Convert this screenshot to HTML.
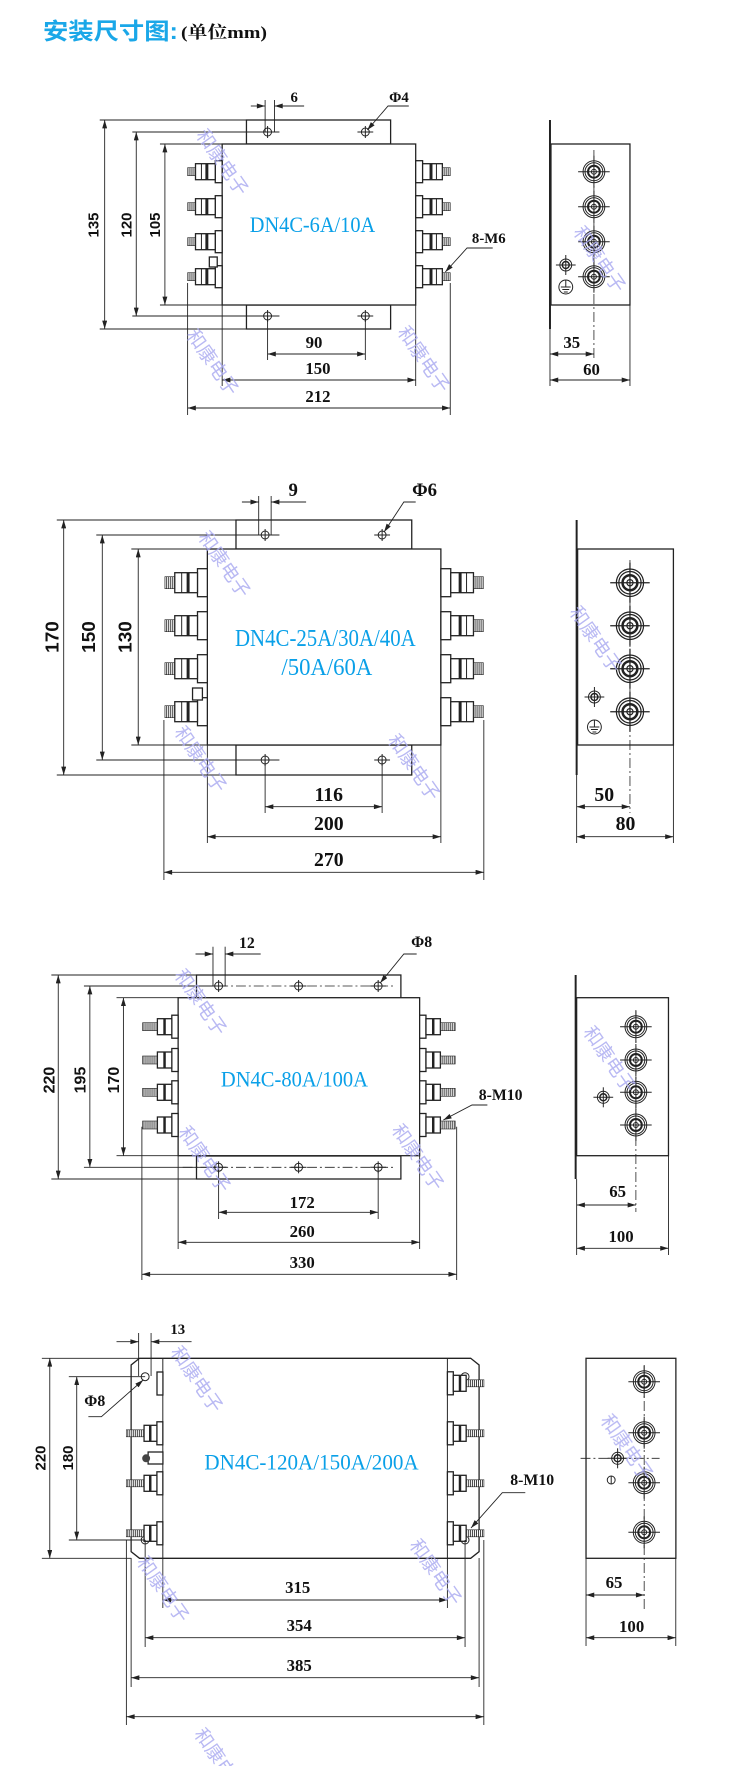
<!DOCTYPE html>
<html><head><meta charset="utf-8"><style>
html,body{margin:0;padding:0;background:#fff;}
svg{display:block;}
.l{stroke:#222;stroke-width:1;fill:none;}
.b{stroke:#222;stroke-width:1.3;fill:#fff;}
.d{stroke:#222;stroke-width:0.9;fill:none;}
.dd{stroke:#222;stroke-width:0.8;fill:none;stroke-dasharray:10 3 2 3;}
.n{font-family:"Liberation Serif",serif;font-weight:bold;fill:#111;text-anchor:middle;}
.r{font-family:"Liberation Sans",sans-serif;font-weight:bold;fill:#111;text-anchor:middle;}
.m{font-family:"Liberation Serif",serif;fill:#0aa0e8;}
.w{font-family:"Liberation Sans","Noto Sans CJK SC",sans-serif;fill:#a8a8f0;opacity:0.8;font-size:19px;}
</style></head><body>
<svg width="730" height="1766" viewBox="0 0 730 1766" xmlns="http://www.w3.org/2000/svg">
<defs>
<marker id="a" viewBox="0 0 10 6" refX="10" refY="3" markerWidth="9" markerHeight="5" orient="auto-start-reverse" markerUnits="userSpaceOnUse"><path d="M0,0 L10,3 L0,6 z" fill="#222"/></marker>
<pattern id="th" width="2" height="4" patternUnits="userSpaceOnUse"><rect width="2" height="4" fill="#fff"/><rect width="1" height="4" fill="#444"/></pattern>
<g id="t1"><rect x="-7" y="-11" width="7" height="22" class="b"/><rect x="-27" y="-8" width="20" height="16" class="b"/><line x1="-21" y1="-8" x2="-21" y2="8" class="l"/><rect x="-17" y="-8" width="3" height="16" fill="#222"/><rect x="-35" y="-4" width="8" height="8" fill="url(#th)" stroke="#222" stroke-width="0.6"/></g>
<g id="t2"><rect x="-10" y="-14" width="10" height="28" class="b"/><rect x="-33" y="-10" width="23" height="20" class="b"/><line x1="-26" y1="-10" x2="-26" y2="10" class="l"/><rect x="-21" y="-10" width="3" height="20" fill="#222"/><rect x="-43" y="-6" width="10" height="12" fill="url(#th)" stroke="#222" stroke-width="0.6"/></g>
<g id="t3"><rect x="-6.4" y="-11.5" width="6.4" height="23" class="b"/><rect x="-21" y="-8" width="14.6" height="16" class="b"/><rect x="-15" y="-8" width="2.5" height="16" fill="#222"/><rect x="-36" y="-4" width="15" height="8" fill="url(#th)" stroke="#222" stroke-width="0.6"/></g>
<g id="t4"><rect x="-6" y="-11.5" width="6" height="23" class="b"/><rect x="-19" y="-8" width="13" height="16" class="b"/><rect x="-14" y="-8" width="2.5" height="16" fill="#222"/><rect x="-37" y="-3.5" width="18" height="7" fill="url(#th)" stroke="#222" stroke-width="0.6"/></g>
<g id="c"><circle r="11" class="l"/><circle r="9" class="l"/><circle r="6" stroke="#222" stroke-width="2" fill="none"/><circle r="2.5" class="l"/><line x1="-16" y1="0" x2="16" y2="0" class="l"/><line x1="0" y1="-16" x2="0" y2="16" class="l"/></g>
<g id="cg"><circle r="6" class="l"/><circle r="3.5" stroke="#222" stroke-width="1.5" fill="none"/><line x1="-10" y1="0" x2="10" y2="0" class="l"/><line x1="0" y1="-10" x2="0" y2="10" class="l"/></g>
<g id="gs"><circle r="7" class="l"/><line x1="0" y1="-7" x2="0" y2="0" class="l"/><line x1="-5" y1="0" x2="5" y2="0" class="l"/><line x1="-3.5" y1="2.5" x2="3.5" y2="2.5" class="l"/><line x1="-2" y1="5" x2="2" y2="5" class="l"/></g>
<g id="h"><circle r="4" class="l"/><line x1="-8" y1="0" x2="8" y2="0" class="l"/><line x1="0" y1="-6" x2="0" y2="6" class="l"/></g>
</defs>

<text x="43" y="39" font-family="Liberation Sans,'Noto Sans CJK SC',sans-serif" font-size="23" font-weight="bold" fill="#1aa7e8" textLength="135" lengthAdjust="spacingAndGlyphs">安装尺寸图:</text>
<text x="181" y="38" font-family="Liberation Serif,'Noto Serif CJK SC',serif" font-size="17" font-weight="bold" fill="#111" textLength="86" lengthAdjust="spacingAndGlyphs">(单位mm)</text>

<g transform="scale(0.9874,1)">
<!-- ========== SECTION 1 ========== -->
<rect x="249.6" y="120" width="146" height="24" class="b"/>
<rect x="249.6" y="305" width="146" height="24" class="b"/>
<rect x="225" y="144" width="196" height="161" class="b"/>
<use href="#h" x="271" y="132"/><use href="#h" x="370" y="132"/>
<use href="#h" x="271" y="316"/><use href="#h" x="370" y="316"/>
<use href="#t1" x="225" y="171.7"/><use href="#t1" x="225" y="206.7"/><use href="#t1" x="225" y="241.7"/><use href="#t1" x="225" y="276.7"/>
<g transform="translate(421,0) scale(-1,1)"><use href="#t1" x="0" y="171.7"/><use href="#t1" x="0" y="206.7"/><use href="#t1" x="0" y="241.7"/><use href="#t1" x="0" y="276.7"/></g>
<rect x="212" y="257" width="8" height="10" class="b"/>
<text class="m" x="253" y="232" font-size="22" textLength="127" lengthAdjust="spacingAndGlyphs">DN4C-6A/10A</text>
<line x1="268.5" y1="100" x2="268.5" y2="132" class="d"/><line x1="278" y1="100" x2="278" y2="132" class="d"/>
<line x1="254" y1="106" x2="268.5" y2="106" class="d" marker-end="url(#a)"/><line x1="308" y1="106" x2="278" y2="106" class="d" marker-end="url(#a)"/>
<text class="n" x="298" y="102" font-size="15">6</text>
<polyline points="414,106 393,106 372,130" class="d" marker-end="url(#a)"/>
<text class="n" x="404" y="102" font-size="15">Φ4</text>
<line x1="101" y1="120" x2="250" y2="120" class="d"/><line x1="101" y1="329" x2="250" y2="329" class="d"/>
<line x1="106" y1="120" x2="106" y2="329" class="d" marker-start="url(#a)" marker-end="url(#a)"/>
<line x1="134" y1="132" x2="283" y2="132" class="d"/><line x1="134" y1="316" x2="283" y2="316" class="d"/>
<line x1="138" y1="132" x2="138" y2="316" class="d" marker-start="url(#a)" marker-end="url(#a)"/>
<line x1="162" y1="144" x2="225" y2="144" class="d"/><line x1="162" y1="305" x2="225" y2="305" class="d"/>
<line x1="167" y1="144" x2="167" y2="305" class="d" marker-start="url(#a)" marker-end="url(#a)"/>
<text class="r" font-size="15" transform="translate(100,225) rotate(-90)">135</text>
<text class="r" font-size="15" transform="translate(133,225) rotate(-90)">120</text>
<text class="r" font-size="15" transform="translate(162,225) rotate(-90)">105</text>
<polyline points="499,248 473,248 451,272" class="d" marker-end="url(#a)"/>
<text class="n" x="495" y="243" font-size="15">8-M6</text>
<line x1="271" y1="316" x2="271" y2="360" class="d"/><line x1="370" y1="316" x2="370" y2="360" class="d"/>
<line x1="271" y1="354" x2="370" y2="354" class="d" marker-start="url(#a)" marker-end="url(#a)"/>
<text class="n" x="318" y="348" font-size="17">90</text>
<line x1="225" y1="305" x2="225" y2="386" class="d"/><line x1="421" y1="305" x2="421" y2="386" class="d"/>
<line x1="225" y1="380" x2="421" y2="380" class="d" marker-start="url(#a)" marker-end="url(#a)"/>
<text class="n" x="322" y="374" font-size="17">150</text>
<line x1="190" y1="283" x2="190" y2="415" class="d"/><line x1="456" y1="283" x2="456" y2="415" class="d"/>
<line x1="190" y1="408" x2="456" y2="408" class="d" marker-start="url(#a)" marker-end="url(#a)"/>
<text class="n" x="322" y="402" font-size="17">212</text>
<line x1="557" y1="120" x2="557" y2="329" stroke="#222" stroke-width="2"/>
<rect x="558" y="144" width="80" height="161" class="b"/>
<line x1="601.5" y1="150" x2="601.5" y2="360" class="dd"/>
<use href="#c" x="601.5" y="171.7"/><use href="#c" x="601.5" y="206.7"/><use href="#c" x="601.5" y="241.7"/><use href="#c" x="601.5" y="276.7"/>
<use href="#cg" x="573" y="265"/><use href="#gs" x="573" y="287"/>
<line x1="557" y1="329" x2="557" y2="386" class="d"/><line x1="638" y1="305" x2="638" y2="386" class="d"/>
<line x1="557" y1="354" x2="601.5" y2="354" class="d" marker-start="url(#a)" marker-end="url(#a)"/>
<text class="n" x="579" y="348" font-size="17">35</text>
<line x1="557" y1="380" x2="638" y2="380" class="d" marker-start="url(#a)" marker-end="url(#a)"/>
<text class="n" x="599" y="375" font-size="17">60</text>

<!-- ========== SECTION 2 ========== -->
<rect x="239" y="520" width="178" height="29" class="b"/>
<rect x="239" y="745" width="178" height="30" class="b"/>
<rect x="210" y="549" width="236.5" height="196" class="b"/>
<use href="#h" x="268.5" y="535"/><use href="#h" x="387" y="535"/>
<use href="#h" x="268.5" y="760"/><use href="#h" x="387" y="760"/>
<use href="#t2" x="210" y="582.7"/><use href="#t2" x="210" y="625.7"/><use href="#t2" x="210" y="668.7"/><use href="#t2" x="210" y="711.7"/>
<g transform="translate(446.5,0) scale(-1,1)"><use href="#t2" x="0" y="582.7"/><use href="#t2" x="0" y="625.7"/><use href="#t2" x="0" y="668.7"/><use href="#t2" x="0" y="711.7"/></g>
<rect x="195" y="688" width="10" height="12" class="b"/>
<text class="m" x="238" y="646" font-size="24" textLength="183" lengthAdjust="spacingAndGlyphs">DN4C-25A/30A/40A</text>
<text class="m" x="285" y="675" font-size="24" textLength="92" lengthAdjust="spacingAndGlyphs">/50A/60A</text>
<line x1="262" y1="496" x2="262" y2="535" class="d"/><line x1="274.6" y1="496" x2="274.6" y2="535" class="d"/>
<line x1="245" y1="502" x2="262" y2="502" class="d" marker-end="url(#a)"/><line x1="310" y1="502" x2="274.6" y2="502" class="d" marker-end="url(#a)"/>
<text class="n" x="297" y="496" font-size="19">9</text>
<polyline points="421,502 409,502 389,532" class="d" marker-end="url(#a)"/>
<text class="n" x="430" y="496" font-size="19">Φ6</text>
<line x1="57.5" y1="520" x2="239" y2="520" class="d"/><line x1="57.5" y1="775" x2="239" y2="775" class="d"/>
<line x1="64.5" y1="520" x2="64.5" y2="775" class="d" marker-start="url(#a)" marker-end="url(#a)"/>
<line x1="97.5" y1="535" x2="283" y2="535" class="d"/><line x1="97.5" y1="760" x2="283" y2="760" class="d"/>
<line x1="103.6" y1="535" x2="103.6" y2="760" class="d" marker-start="url(#a)" marker-end="url(#a)"/>
<line x1="133" y1="549" x2="210" y2="549" class="d"/><line x1="133" y1="745" x2="210" y2="745" class="d"/>
<line x1="140" y1="549" x2="140" y2="745" class="d" marker-start="url(#a)" marker-end="url(#a)"/>
<text class="r" font-size="19" transform="translate(59,637) rotate(-90)">170</text>
<text class="r" font-size="19" transform="translate(96,637) rotate(-90)">150</text>
<text class="r" font-size="19" transform="translate(133,637) rotate(-90)">130</text>
<line x1="268.5" y1="760" x2="268.5" y2="813" class="d"/><line x1="387" y1="760" x2="387" y2="813" class="d"/>
<line x1="268.5" y1="806.7" x2="387" y2="806.7" class="d" marker-start="url(#a)" marker-end="url(#a)"/>
<text class="n" x="333" y="801" font-size="20">116</text>
<line x1="210" y1="745" x2="210" y2="843" class="d"/><line x1="446.5" y1="745" x2="446.5" y2="843" class="d"/>
<line x1="210" y1="836.7" x2="446.5" y2="836.7" class="d" marker-start="url(#a)" marker-end="url(#a)"/>
<text class="n" x="333" y="830" font-size="20">200</text>
<line x1="166" y1="720" x2="166" y2="880" class="d"/><line x1="490" y1="720" x2="490" y2="880" class="d"/>
<line x1="166" y1="872.3" x2="490" y2="872.3" class="d" marker-start="url(#a)" marker-end="url(#a)"/>
<text class="n" x="333" y="866" font-size="20">270</text>
<line x1="584" y1="520" x2="584" y2="775" stroke="#222" stroke-width="2"/>
<rect x="585" y="549" width="97" height="196" class="b"/>
<line x1="638" y1="560" x2="638" y2="813" class="dd"/>
<g transform="translate(638,582.7) scale(1.25)"><use href="#c"/></g><g transform="translate(638,625.7) scale(1.25)"><use href="#c"/></g><g transform="translate(638,668.7) scale(1.25)"><use href="#c"/></g><g transform="translate(638,711.7) scale(1.25)"><use href="#c"/></g>
<use href="#cg" x="602" y="697"/><use href="#gs" x="602" y="727"/>
<line x1="584" y1="775" x2="584" y2="843" class="d"/><line x1="682" y1="745" x2="682" y2="843" class="d"/>
<line x1="584" y1="806.7" x2="638" y2="806.7" class="d" marker-start="url(#a)" marker-end="url(#a)"/>
<text class="n" x="612" y="801" font-size="20">50</text>
<line x1="584" y1="836.7" x2="682" y2="836.7" class="d" marker-start="url(#a)" marker-end="url(#a)"/>
<text class="n" x="633.5" y="830" font-size="20">80</text>

<!-- ========== SECTION 3 ========== -->
<rect x="199" y="975" width="207" height="23" class="b"/>
<rect x="199" y="1156" width="207" height="23" class="b"/>
<rect x="180.4" y="997.7" width="244.6" height="158" class="b"/>
<line x1="185" y1="986" x2="400" y2="986" class="dd"/><line x1="185" y1="1167.3" x2="400" y2="1167.3" class="dd"/>
<use href="#h" x="221.4" y="986"/><use href="#h" x="302.4" y="986"/><use href="#h" x="383" y="986"/>
<use href="#h" x="221.4" y="1167.3"/><use href="#h" x="302.4" y="1167.3"/><use href="#h" x="383" y="1167.3"/>
<use href="#t3" x="180.4" y="1026.7"/><use href="#t3" x="180.4" y="1060"/><use href="#t3" x="180.4" y="1092.3"/><use href="#t3" x="180.4" y="1125"/>
<g transform="translate(425,0) scale(-1,1)"><use href="#t3" x="0" y="1026.7"/><use href="#t3" x="0" y="1060"/><use href="#t3" x="0" y="1092.3"/><use href="#t3" x="0" y="1125"/></g>
<text class="m" x="223.7" y="1086.7" font-size="22" textLength="149" lengthAdjust="spacingAndGlyphs">DN4C-80A/100A</text>
<line x1="215.7" y1="946.7" x2="215.7" y2="986" class="d"/><line x1="228" y1="946.7" x2="228" y2="986" class="d"/>
<line x1="198" y1="954" x2="215.7" y2="954" class="d" marker-end="url(#a)"/><line x1="264" y1="954" x2="228" y2="954" class="d" marker-end="url(#a)"/>
<text class="n" x="250" y="948" font-size="16">12</text>
<polyline points="422,954 409,954 385,983" class="d" marker-end="url(#a)"/>
<text class="n" x="427" y="947" font-size="16">Φ8</text>
<line x1="52" y1="975" x2="199" y2="975" class="d"/><line x1="52" y1="1179" x2="199" y2="1179" class="d"/>
<line x1="59" y1="975" x2="59" y2="1179" class="d" marker-start="url(#a)" marker-end="url(#a)"/>
<line x1="85" y1="986" x2="221" y2="986" class="d"/><line x1="85" y1="1167.3" x2="221" y2="1167.3" class="d"/>
<line x1="91" y1="986" x2="91" y2="1167.3" class="d" marker-start="url(#a)" marker-end="url(#a)"/>
<line x1="118" y1="997.7" x2="180" y2="997.7" class="d"/><line x1="118" y1="1155.7" x2="180" y2="1155.7" class="d"/>
<line x1="125" y1="997.7" x2="125" y2="1155.7" class="d" marker-start="url(#a)" marker-end="url(#a)"/>
<text class="r" font-size="16" transform="translate(55,1080) rotate(-90)">220</text>
<text class="r" font-size="16" transform="translate(86.5,1080) rotate(-90)">195</text>
<text class="r" font-size="16" transform="translate(120.5,1080) rotate(-90)">170</text>
<polyline points="493.6,1105 478,1105 449,1120" class="d" marker-end="url(#a)"/>
<text class="n" x="507" y="1100" font-size="16">8-M10</text>
<line x1="221.4" y1="1167" x2="221.4" y2="1219" class="d"/><line x1="383" y1="1167" x2="383" y2="1219" class="d"/>
<line x1="221.4" y1="1212.3" x2="383" y2="1212.3" class="d" marker-start="url(#a)" marker-end="url(#a)"/>
<text class="n" x="306" y="1208" font-size="17">172</text>
<line x1="180.4" y1="1156" x2="180.4" y2="1249" class="d"/><line x1="425" y1="1156" x2="425" y2="1249" class="d"/>
<line x1="180.4" y1="1242.3" x2="425" y2="1242.3" class="d" marker-start="url(#a)" marker-end="url(#a)"/>
<text class="n" x="306" y="1237" font-size="17">260</text>
<line x1="143.7" y1="1126.7" x2="143.7" y2="1280" class="d"/><line x1="462.5" y1="1126.7" x2="462.5" y2="1280" class="d"/>
<line x1="143.7" y1="1274.3" x2="462.5" y2="1274.3" class="d" marker-start="url(#a)" marker-end="url(#a)"/>
<text class="n" x="306" y="1268" font-size="17">330</text>
<line x1="583" y1="975" x2="583" y2="1179" stroke="#222" stroke-width="2"/>
<rect x="584" y="997.7" width="93" height="158" class="b"/>
<line x1="644" y1="1010" x2="644" y2="1212" class="dd"/>
<use href="#c" x="644" y="1026.7"/><use href="#c" x="644" y="1060"/><use href="#c" x="644" y="1092.3"/><use href="#c" x="644" y="1125"/>
<use href="#cg" x="611" y="1097.3"/>
<line x1="584" y1="1179" x2="584" y2="1255" class="d"/><line x1="677" y1="1156" x2="677" y2="1255" class="d"/>
<line x1="584" y1="1205" x2="644" y2="1205" class="d" marker-start="url(#a)" marker-end="url(#a)"/>
<text class="n" x="625.5" y="1197" font-size="17">65</text>
<line x1="584" y1="1248.3" x2="677" y2="1248.3" class="d" marker-start="url(#a)" marker-end="url(#a)"/>
<text class="n" x="629" y="1242" font-size="17">100</text>

<!-- ========== SECTION 4 ========== -->
<polygon points="141.3,1358.3 476.7,1358.3 485.2,1365 485.2,1551.7 476.7,1558.3 141.3,1558.3 132.8,1551.7 132.8,1365" class="b"/>
<line x1="164.9" y1="1358.3" x2="164.9" y2="1558.3" class="l"/><line x1="453.1" y1="1358.3" x2="453.1" y2="1558.3" class="l"/>
<circle cx="147" cy="1376.7" r="4" class="l"/><circle cx="147" cy="1540" r="4" class="l"/>
<circle cx="471" cy="1376.7" r="4" class="l"/><circle cx="471" cy="1540" r="4" class="l"/>
<rect x="159" y="1372" width="6" height="23" class="b"/>
<use href="#t4" x="164.9" y="1433.3"/><use href="#t4" x="164.9" y="1483.3"/><use href="#t4" x="164.9" y="1533.3"/>
<rect x="150" y="1452" width="15" height="12" class="b"/><circle cx="148" cy="1458.3" r="4" fill="#444"/>
<g transform="translate(453.1,0) scale(-1,1)"><use href="#t4" x="0" y="1383.3"/><use href="#t4" x="0" y="1433.3"/><use href="#t4" x="0" y="1483.3"/><use href="#t4" x="0" y="1533.3"/></g>
<text class="m" x="207" y="1469.3" font-size="22" textLength="217" lengthAdjust="spacingAndGlyphs">DN4C-120A/150A/200A</text>
<line x1="140.4" y1="1333" x2="140.4" y2="1376" class="d"/><line x1="153" y1="1333" x2="153" y2="1376" class="d"/>
<line x1="118" y1="1341.7" x2="140.4" y2="1341.7" class="d" marker-end="url(#a)"/><line x1="194" y1="1341.7" x2="153" y2="1341.7" class="d" marker-end="url(#a)"/>
<text class="n" x="180" y="1334" font-size="15">13</text>
<polyline points="89.5,1416.7 102.7,1416.7 145,1380" class="d" marker-end="url(#a)"/>
<text class="n" x="96" y="1406" font-size="16">Φ8</text>
<line x1="42.4" y1="1358.3" x2="141" y2="1358.3" class="d"/><line x1="42.4" y1="1558.3" x2="133" y2="1558.3" class="d"/>
<line x1="50.4" y1="1358.3" x2="50.4" y2="1558.3" class="d" marker-start="url(#a)" marker-end="url(#a)"/>
<line x1="69.7" y1="1376.7" x2="147" y2="1376.7" class="d"/><line x1="69.7" y1="1540" x2="147" y2="1540" class="d"/>
<line x1="77.7" y1="1376.7" x2="77.7" y2="1540" class="d" marker-start="url(#a)" marker-end="url(#a)"/>
<text class="r" font-size="15" transform="translate(46,1458) rotate(-90)">220</text>
<text class="r" font-size="15" transform="translate(74,1458) rotate(-90)">180</text>
<polyline points="532,1492.7 508.7,1492.7 477,1528" class="d" marker-end="url(#a)"/>
<text class="n" x="539" y="1485" font-size="16">8-M10</text>
<line x1="164.9" y1="1558" x2="164.9" y2="1608" class="d"/><line x1="453.1" y1="1558" x2="453.1" y2="1608" class="d"/>
<line x1="164.9" y1="1600" x2="453.1" y2="1600" class="d" marker-start="url(#a)" marker-end="url(#a)"/>
<text class="n" x="301.5" y="1593" font-size="17">315</text>
<line x1="147" y1="1540" x2="147" y2="1647" class="d"/><line x1="471" y1="1540" x2="471" y2="1647" class="d"/>
<line x1="147" y1="1637.7" x2="471" y2="1637.7" class="d" marker-start="url(#a)" marker-end="url(#a)"/>
<text class="n" x="303" y="1631" font-size="17">354</text>
<line x1="132.8" y1="1558" x2="132.8" y2="1687" class="d"/><line x1="485.2" y1="1558" x2="485.2" y2="1687" class="d"/>
<line x1="132.8" y1="1677.7" x2="485.2" y2="1677.7" class="d" marker-start="url(#a)" marker-end="url(#a)"/>
<text class="n" x="303" y="1671" font-size="17">385</text>
<line x1="128" y1="1540" x2="128" y2="1725" class="d"/><line x1="490" y1="1540" x2="490" y2="1725" class="d"/>
<line x1="128" y1="1716.7" x2="490" y2="1716.7" class="d" marker-start="url(#a)" marker-end="url(#a)"/>
<rect x="593.5" y="1358.3" width="91" height="200" class="b"/>
<line x1="652.4" y1="1365" x2="652.4" y2="1610" class="dd"/>
<line x1="588" y1="1458.3" x2="668" y2="1458.3" class="dd"/>
<use href="#c" x="652.4" y="1381.7"/><use href="#c" x="652.4" y="1432.7"/><use href="#c" x="652.4" y="1482.7"/><use href="#c" x="652.4" y="1532.3"/>
<use href="#cg" x="625.5" y="1458.3"/><circle cx="619" cy="1480" r="4" class="l"/><line x1="619" y1="1476" x2="619" y2="1484" class="l"/>
<line x1="593.5" y1="1558" x2="593.5" y2="1646" class="d"/><line x1="684.4" y1="1558" x2="684.4" y2="1646" class="d"/>
<line x1="593.5" y1="1595" x2="652.4" y2="1595" class="d" marker-start="url(#a)" marker-end="url(#a)"/>
<text class="n" x="621.8" y="1588" font-size="17">65</text>
<line x1="593.5" y1="1637.7" x2="684.4" y2="1637.7" class="d" marker-start="url(#a)" marker-end="url(#a)"/>
<text class="n" x="639.7" y="1632" font-size="17">100</text>

<g class="w">
<text transform="translate(198,135) rotate(55)">和康电子</text>
<text transform="translate(188,335) rotate(55)">和康电子</text>
<text transform="translate(402,332) rotate(55)">和康电子</text>
<text transform="translate(580,232) rotate(55)">和康电子</text>
<text transform="translate(200,537) rotate(55)">和康电子</text>
<text transform="translate(176,732) rotate(55)">和康电子</text>
<text transform="translate(392,740) rotate(55)">和康电子</text>
<text transform="translate(576,612) rotate(55)">和康电子</text>
<text transform="translate(176,975) rotate(55)">和康电子</text>
<text transform="translate(180,1132) rotate(55)">和康电子</text>
<text transform="translate(396,1130) rotate(55)">和康电子</text>
<text transform="translate(590,1032) rotate(55)">和康电子</text>
<text transform="translate(172,1352) rotate(55)">和康电子</text>
<text transform="translate(138,1562) rotate(55)">和康电子</text>
<text transform="translate(414,1545) rotate(55)">和康电子</text>
<text transform="translate(608,1420) rotate(55)">和康电子</text>
<text transform="translate(196,1734) rotate(55)">和康电子</text>
</g>
</g>
</svg>
</body></html>
